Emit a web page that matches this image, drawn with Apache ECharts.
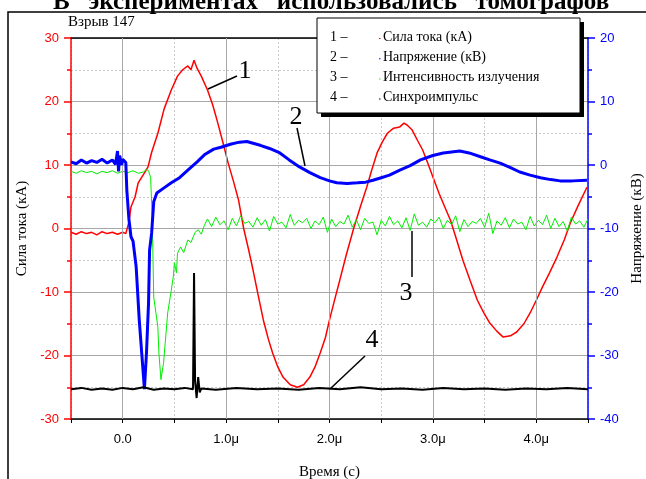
<!DOCTYPE html>
<html>
<head>
<meta charset="utf-8">
<script src="https://cdn.jsdelivr.net/npm/echarts@6/dist/echarts.min.js"></script>
<style>html,body{margin:0;padding:0;background:#fff;}#c{width:646px;height:479px;}</style>
</head>
<body>
<div id="c"></div>
<script>
// ---- Data (time in microseconds) ----
const xTickValues = [0, 1, 2, 3, 4];
const xTickLabels = ['0.0', '1.0μ', '2.0μ', '3.0μ', '4.0μ'];

// 1 - current (kA), left axis
const tRed = [-0.5,-0.45,-0.4,-0.35,-0.3,-0.25,-0.2,-0.15,-0.1,-0.05,0.0,0.03,0.06,0.08,0.12,0.15,0.2,0.245,0.28,0.34,0.4,0.47,0.53,0.58,0.63,0.66,0.69,0.72,0.76,0.82,0.87,0.92,0.97,1.02,1.07,1.12,1.17,1.22,1.26,1.31,1.36,1.41,1.45,1.5,1.55,1.62,1.69,1.75,1.81,1.86,1.91,1.96,2.0,2.05,2.1,2.16,2.23,2.3,2.36,2.41,2.46,2.51,2.56,2.62,2.68,2.72,2.75,2.8,2.85,2.9,2.95,3.0,3.06,3.12,3.17,3.23,3.29,3.36,3.43,3.49,3.55,3.62,3.68,3.75,3.81,3.88,3.94,4.0,4.06,4.13,4.2,4.27,4.33,4.41,4.49];
const iRed = [-0.6,-0.9,-0.5,-0.8,-0.6,-1.0,-0.5,-0.8,-0.6,-0.9,-0.6,-0.8,1.0,3.4,5.0,7.2,8.5,9.7,12.0,15.0,18.8,21.8,24.0,25.0,25.6,25.0,26.5,25.2,24.0,21.8,19.5,16.6,13.5,10.3,7.5,4.5,0.0,-3.5,-6.5,-10.5,-14.4,-17.5,-19.6,-21.8,-23.4,-24.6,-25.0,-24.6,-23.4,-21.8,-19.6,-17.2,-14.4,-11.2,-8.1,-4.3,-0.2,3.5,6.5,9.3,11.9,13.6,15.0,15.8,16.0,16.6,16.3,15.5,13.9,12.4,10.3,8.1,5.5,3.2,1.3,-1.8,-5.0,-8.2,-11.3,-13.2,-14.9,-16.2,-17.1,-16.9,-16.3,-15.0,-13.3,-11.3,-9.2,-6.9,-4.5,-1.8,0.9,3.8,6.5];

// 2 - voltage (kV), right axis
const tVolt = [-0.5,-0.45,-0.4,-0.35,-0.3,-0.25,-0.2,-0.15,-0.1,-0.07,-0.05,-0.04,-0.03,-0.01,0.0,0.03,0.04,0.06,0.08,0.1,0.13,0.16,0.21,0.23,0.25,0.26,0.28,0.3,0.33,0.4,0.47,0.55,0.63,0.72,0.79,0.88,0.95,1.05,1.13,1.2,1.33,1.42,1.52,1.61,1.71,1.81,1.91,2.0,2.07,2.17,2.27,2.35,2.42,2.5,2.58,2.68,2.78,2.88,3.0,3.1,3.2,3.26,3.35,3.46,3.55,3.65,3.75,3.84,3.94,4.04,4.14,4.23,4.35,4.49];
const uVolt = [0.5,0.2,0.8,0.3,0.7,0.4,0.9,0.3,0.8,0.1,2.2,-1.0,1.5,0.0,0.9,0.4,-4.0,-8.5,-11.3,-12.0,-16.0,-24.4,-35.3,-29.6,-21.7,-13.4,-10.7,-5.8,-4.4,-3.6,-2.8,-2.0,-0.8,0.5,1.6,2.5,2.8,3.3,3.6,3.7,3.1,2.6,1.9,0.8,-0.3,-1.2,-2.0,-2.5,-2.8,-2.9,-2.8,-2.7,-2.4,-2.0,-1.6,-0.8,-0.1,0.8,1.5,1.9,2.1,2.2,1.9,1.3,0.8,0.3,-0.4,-1.1,-1.6,-2.0,-2.3,-2.5,-2.5,-2.4];

// 3 - radiation intensity (plotted on left scale)
const tGreen = [-0.5,-0.45,-0.4,-0.35,-0.3,-0.25,-0.2,-0.15,-0.1,-0.05,0.0,0.05,0.1,0.15,0.2,0.23,0.25,0.27,0.285,0.3,0.34,0.35,0.37,0.395,0.435,0.47,0.49,0.5,0.52,0.53,0.56,0.59,0.63,0.66,0.7,0.73,0.76,0.79,
0.82,0.86,0.90,0.94,0.98,1.02,1.06,1.10,1.14,1.18,
1.22,1.26,1.30,1.34,1.38,1.42,1.46,1.50,1.54,1.58,
1.62,1.66,1.70,1.74,1.78,1.82,1.86,1.90,1.94,1.98,
2.02,2.06,2.10,2.14,2.18,2.22,2.26,2.30,2.34,2.38,
2.42,2.46,2.50,2.54,2.58,2.62,2.66,2.70,2.74,2.78,
2.82,2.86,2.90,2.94,2.98,3.02,3.06,3.10,3.14,3.18,
3.22,3.26,3.30,3.34,3.38,3.42,3.46,3.50,3.54,3.58,
3.62,3.66,3.70,3.74,3.78,3.82,3.86,3.90,3.94,3.98,
4.02,4.06,4.10,4.14,4.18,4.22,4.26,4.30,4.34,4.38,
4.42,4.46,4.50];
const gGreen = [9.0,8.7,9.1,8.8,9.0,8.6,9.0,8.8,9.1,8.7,9.0,8.8,9.1,8.7,8.9,9.3,9.1,8.0,2.0,-10.8,-15.5,-19.6,-23.8,-21.2,-13.3,-9.7,-7.5,-5.4,-7.0,-3.9,-2.9,-3.8,-1.8,-2.2,-0.6,-0.2,-0.9,0.5,
1.5,0.3,1.8,0.6,1.2,-0.2,1.6,0.4,2.0,0.8,
1.1,0.2,1.7,0.5,1.4,-0.4,1.9,0.7,1.0,0.1,
2.2,0.5,1.3,0.9,1.6,0.0,1.2,0.6,1.8,-0.6,
1.5,0.3,1.1,0.7,2.1,0.2,1.4,-0.2,1.6,0.8,
1.0,-1.0,1.3,0.4,1.9,0.6,1.2,0.1,1.7,-0.3,
2.3,0.5,1.0,0.2,1.5,0.9,1.8,0.0,1.3,0.6,
2.0,-0.5,1.4,0.3,1.1,0.8,1.6,0.2,2.4,-0.8,
1.2,0.5,1.7,0.1,1.5,0.7,1.0,-0.2,1.9,0.4,
1.3,0.6,2.1,0.0,1.6,0.3,1.1,-0.4,1.8,0.7,
1.2,0.2,1.5];

// 4 - sync pulse (plotted on left scale)
const tSync = [-0.5,-0.4,-0.3,-0.2,-0.1,0.0,0.1,0.2,0.3,0.4,0.5,0.6,0.68,0.69,0.70,0.715,0.73,0.745,0.76,0.9,1.1,1.3,1.5,1.7,1.9,2.1,2.3,2.5,2.7,2.9,3.1,3.3,3.5,3.7,3.9,4.1,4.3,4.5];
const sSync = [-25.3,-25.1,-25.4,-25.2,-25.4,-25.1,-25.3,-25.0,-25.4,-25.2,-25.3,-25.1,-25.3,-7.0,-24.0,-26.7,-23.4,-25.8,-25.2,-25.4,-25.1,-25.3,-25.2,-25.4,-25.1,-25.3,-25.0,-25.3,-25.2,-25.4,-25.1,-25.3,-25.2,-25.4,-25.2,-25.3,-25.1,-25.3];

function pairs(t, v) { return t.map((x, i) => [x, v[i]]); }

const SERIF = '"Liberation Serif", "Times New Roman", serif';
const SANS = '"Liberation Sans", Arial, sans-serif';

const chart = echarts.init(document.getElementById('c'), null, {renderer: 'canvas'});

const legendRows = [
  {n: '1 –', t: 'Сила тока (кА)', c: '#ff0000'},
  {n: '2 –', t: 'Напряжение (кВ)', c: '#0000ff'},
  {n: '3 –', t: 'Интенсивность излучения', c: '#00ff00'},
  {n: '4 –', t: 'Синхроимпульс', c: '#000000'}
];
const graphics = [
  {type: 'rect', shape: {x: 8, y: 12, width: 700, height: 520}, style: {fill: 'none', stroke: '#000', lineWidth: 1.5}, silent: true},
  {type: 'text', style: {text: 'В   экспериментах   использовались   томографов', x: 53, y: 15, font: 'bold 25px ' + SERIF, fill: '#000', verticalAlign: 'bottom', align: 'left'}},
  {type: 'text', style: {text: 'Взрыв 147', x: 68, y: 22, font: '15px ' + SERIF, fill: '#000', verticalAlign: 'middle', align: 'left'}},
  {type: 'rect', shape: {x: 321, y: 22, width: 263, height: 95}, style: {fill: '#000'}, z: 100},
  {type: 'rect', shape: {x: 317, y: 18, width: 263, height: 95}, style: {fill: '#fff', stroke: '#000', lineWidth: 1}, z: 101}
];
legendRows.forEach((r, i) => {
  const y = 37 + i * 20.2;
  graphics.push({type: 'text', z: 102, style: {text: r.n, x: 330, y: y, font: '14px ' + SERIF, fill: '#000', verticalAlign: 'middle'}});
  graphics.push({type: 'rect', z: 102, shape: {x: 379, y: y + 1, width: 1.5, height: 1}, style: {fill: r.c}});
  graphics.push({type: 'text', z: 102, style: {text: r.t, x: 383, y: y, font: '14px ' + SERIF, fill: '#000', verticalAlign: 'middle'}});
});
const notes = [
  {n: '1', x: 245, y: 71, l: [208, 89, 237, 76]},
  {n: '2', x: 296, y: 117, l: [297, 128, 305, 166]},
  {n: '3', x: 406, y: 293, l: [412, 231, 412, 277]},
  {n: '4', x: 372, y: 340, l: [365, 356, 330, 389]}
];
notes.forEach(a => {
  graphics.push({type: 'line', z: 50, shape: {x1: a.l[0], y1: a.l[1], x2: a.l[2], y2: a.l[3]}, style: {stroke: '#000', lineWidth: 1.5}});
  graphics.push({type: 'text', z: 50, style: {text: a.n, x: a.x, y: a.y, font: '26px ' + SERIF, fill: '#000', align: 'center', verticalAlign: 'middle'}});
});

const option = {
  animation: false,
  backgroundColor: '#fff',
  grid: {left: 71, right: 58, top: 38, bottom: 60, containLabel: false, outerBoundsMode: 'none'},
  xAxis: [
    {
      type: 'value', min: -0.5, max: 4.5, interval: 0.5, position: 'bottom',
      axisLine: {show: true, onZero: false, lineStyle: {color: '#000', width: 1.5}},
      axisTick: {show: true, inside: false, length: 4, lineStyle: {color: '#000'}},
      axisLabel: {
        margin: 14, color: '#000', fontFamily: SANS, fontSize: 13,
        formatter: v => { const k = xTickValues.findIndex(x => Math.abs(x - v) < 1e-6); return k >= 0 ? xTickLabels[k] : ''; }
      },
      splitLine: {show: true, lineStyle: {color: '#c8c8c8', type: [2, 2], width: 1}},
      name: 'Время (с)', nameLocation: 'middle', nameGap: 46,
      nameTextStyle: {fontFamily: SERIF, fontSize: 15, color: '#000'}
    },
    {
      type: 'value', min: -0.5, max: 4.5, interval: 0.5, position: 'top',
      axisLine: {show: true, onZero: false, lineStyle: {color: '#000', width: 1.5}},
      axisTick: {show: false}, axisLabel: {show: false}, splitLine: {show: false}
    }
  ],
  yAxis: [
    {
      type: 'value', min: -30, max: 30, interval: 10, position: 'left',
      axisLine: {show: true, onZero: false, lineStyle: {color: '#ff0000', width: 1.5}},
      axisTick: {show: true, length: 7, lineStyle: {color: '#ff0000', width: 1.5}},
      minorTick: {show: true, splitNumber: 2, length: 4, lineStyle: {color: '#ff0000', width: 1.5}},
      axisLabel: {margin: 12, color: '#ff0000', fontFamily: SANS, fontSize: 13},
      splitLine: {show: true, lineStyle: {color: '#a8a8a8', width: 1}},
      minorSplitLine: {show: true, lineStyle: {color: '#c8c8c8', type: [2, 2], width: 1}},
      name: 'Сила тока (кА)', nameLocation: 'middle', nameGap: 37, nameRotate: 90,
      nameTextStyle: {fontFamily: SERIF, fontSize: 15, color: '#000'}
    },
    {
      type: 'value', min: -40, max: 20, interval: 10, position: 'right',
      axisLine: {show: true, onZero: false, lineStyle: {color: '#0000ff', width: 1.5}},
      axisTick: {show: true, length: 7, lineStyle: {color: '#0000ff', width: 1.5}},
      minorTick: {show: true, splitNumber: 2, length: 4, lineStyle: {color: '#0000ff', width: 1.5}},
      axisLabel: {margin: 12, color: '#0000ff', fontFamily: SANS, fontSize: 13},
      splitLine: {show: false},
      name: 'Напряжение (кВ)', nameLocation: 'middle', nameGap: 42, nameRotate: 90,
      nameTextStyle: {fontFamily: SERIF, fontSize: 15, color: '#000'}
    }
  ],
  series: [
    {
      name: 'grid', type: 'line', data: [], z: 1, silent: true,
      markLine: {
        silent: true, symbol: ['none', 'none'], label: {show: false},
        lineStyle: {color: '#a8a8a8', type: 'solid', width: 1},
        data: xTickValues.map(v => ({xAxis: v}))
      }
    },
    {name: 'Сила тока (кА)', type: 'line', xAxisIndex: 0, yAxisIndex: 0, showSymbol: false, z: 3,
      data: pairs(tRed, iRed), lineStyle: {color: '#ff0000', width: 1.5}},
    {name: 'Интенсивность излучения', type: 'line', xAxisIndex: 0, yAxisIndex: 0, showSymbol: false, z: 4,
      data: pairs(tGreen, gGreen), lineStyle: {color: '#00ee00', width: 1}},
    {name: 'Напряжение (кВ)', type: 'line', xAxisIndex: 0, yAxisIndex: 1, showSymbol: false, z: 5,
      data: pairs(tVolt, uVolt), lineStyle: {color: '#0000ff', width: 3}},
    {name: 'Синхроимпульс', type: 'line', xAxisIndex: 0, yAxisIndex: 0, showSymbol: false, z: 6,
      data: pairs(tSync, sSync), lineStyle: {color: '#000', width: 2}}
  ],
  graphic: graphics
};
chart.setOption(option);
</script>
</body>
</html>
